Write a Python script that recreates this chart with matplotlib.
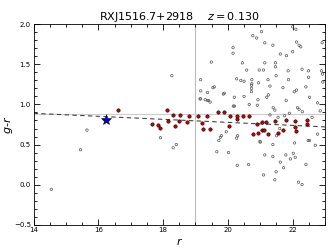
import numpy as np
import matplotlib
matplotlib.use("Agg")
import matplotlib.pyplot as plt
from matplotlib.ticker import MultipleLocator

# ------------------------------------------------------------
# Data
# ------------------------------------------------------------
# all galaxies in the field (open circles)
field_r = [14.55, 15.45, 15.65, 17.92, 18.31, 18.41, 18.27,
           19.16, 19.37, 19.16, 19.37, 19.45, 19.58, 19.89, 20.2, 20.5, 20.2,
           20.73, 20.73, 20.73, 20.66, 20.93, 20.91, 21.2, 21.25, 21.4, 21.45,
           21.3, 21.7, 21.8, 22.05, 22.12, 22.15, 22.2, 22.41, 22.52, 22.77,
           21.3, 21.55, 21.75, 22.77, 22.52, 20.27, 20.3, 19.77, 19.8, 21.0, 21.5,
           19.49, 19.16, 20.16, 20.16, 20.45, 20.77, 20.89, 21.04, 21.14, 21.39,
           21.62, 21.81, 22.0, 22.12, 22.2, 22.25, 22.91, 21.14, 21.47, 21.47,
           20.97, 21.1, 20.58, 21.86, 22.29, 22.49, 22.89, 22.92, 21.49, 21.24,
           21.87, 22.49, 22.93, 20.27, 20.4, 20.5, 20.74, 20.74, 20.95,
           19.72, 19.66, 20.02, 20.29, 20.64, 20.99, 21.14, 21.39, 21.39, 21.62,
           21.79, 21.93, 22.02, 22.08, 22.06, 21.72, 21.49, 21.1, 21.45, 22.18,
           22.29, 22.41, 22.7, 22.48, 22.0, 22.1, 19.14, 19.3, 19.4, 19.54,
           19.86, 20.17, 21.9, 22.3, 21.6, 22.6, 19.95, 22.85]
field_gr = [-0.06, 0.435, 0.68, 0.585, 0.46, 0.50, 1.36,
            1.17, 1.15, 1.07, 1.05, 1.03, 1.22, 1.14, 1.09, 1.10, 0.98,
            1.24, 1.20, 1.16, 1.00, 1.06, 0.99, 1.09, 1.12, 0.96, 0.93,
            1.23, 1.21, 1.05, 1.16, 1.18, 0.96, 0.94, 1.22, 1.09, 1.02,
            0.87, 0.84, 0.86, 0.63, 0.55, 0.58, 0.61, 0.59, 0.61, 0.53, 0.61,
            1.53, 1.31, 1.71, 1.64, 1.52, 1.86, 1.83, 1.91, 1.77, 1.74,
            1.63, 1.61, 1.66, 1.78, 1.74, 1.72, 1.77, 1.52, 1.52, 1.47,
            1.43, 1.43, 1.43, 1.42, 1.44, 1.42, 1.42, 1.38, 1.36, 1.31,
            1.31, 1.34, 1.28, 1.32, 1.30, 1.29, 1.31, 1.26, 1.27,
            0.55, 0.41, 0.40, 0.24, 0.25, 0.54, 0.37, 0.50, 0.35, 0.28,
            0.37, 0.32, 0.39, 0.34, 0.52, 0.21, 0.16, 0.12, 0.06, 0.03,
            0.00, 0.25, 0.49, 0.55, 1.97, 1.94, 1.07, 1.06, 1.05, 1.21,
            1.13, 0.98, 0.89, 0.91, 0.70, 0.84, 0.66, 0.92]

# red-sequence members (filled red)
member_r = [16.61, 18.12, 17.66, 17.84, 17.92, 18.16, 18.30, 18.52, 18.49,
            18.37, 18.73, 18.81, 19.09, 19.20, 19.22, 19.46, 19.37, 19.70,
            19.89, 20.06, 20.02, 20.29, 20.29, 20.48, 20.66, 20.89, 21.06,
            21.18, 21.04, 21.12, 20.78, 20.93, 21.24, 21.47, 21.54, 21.70,
            21.79, 22.06, 22.08, 22.10, 22.43, 22.45]
member_gr = [0.93, 0.935, 0.75, 0.745, 0.71, 0.79, 0.865, 0.87, 0.79,
             0.735, 0.785, 0.85, 0.85, 0.77, 0.69, 0.70, 0.85, 0.91,
             0.91, 0.86, 0.73, 0.86, 0.82, 0.86, 0.86, 0.76, 0.78,
             0.78, 0.68, 0.68, 0.63, 0.65, 0.63, 0.79, 0.64, 0.68,
             0.80, 0.79, 0.72, 0.67, 0.80, 0.75]

# brightest cluster galaxy
bcg_r, bcg_gr = 16.24, 0.80

# red-sequence fit and cuts
fit_r = [14.0, 23.0]
fit_gr = [0.89, 0.72]
r_cut = 19.0
gr_cut = 0.885

title = "RXJ1516.7+2918    $z = 0.130$"

# ------------------------------------------------------------
# Plot
# ------------------------------------------------------------
fig = plt.figure(figsize=(3.32, 2.49), dpi=100)
ax = fig.add_axes([0.101, 0.098, 0.878, 0.804])

ax.axvline(r_cut, color='#bbbbbb', lw=0.8, zorder=1)
ax.axhline(gr_cut, color='#cccccc', lw=0.8, zorder=1)
ax.plot(fit_r, fit_gr, '--', color='#444444', lw=0.8, dashes=(4, 3), zorder=2)

ax.scatter(field_r, field_gr, s=3, facecolors='none', edgecolors='#555555',
           linewidths=0.5, zorder=3)
ax.scatter(member_r, member_gr, s=6, color='#cc0000', edgecolors='black',
           linewidths=0.4, zorder=4)
ax.plot(bcg_r, bcg_gr, '*', color='#0000dd', markeredgecolor='black',
        markeredgewidth=0.4, markersize=8, zorder=5)

ax.set_xlim(14, 23)
ax.set_ylim(-0.5, 2.0)
ax.xaxis.set_major_locator(MultipleLocator(2))
ax.xaxis.set_minor_locator(MultipleLocator(0.5))
ax.yaxis.set_major_locator(MultipleLocator(0.5))
ax.yaxis.set_minor_locator(MultipleLocator(0.1))
ax.tick_params(which='both', direction='in', top=True, right=True,
               labelsize=5, width=0.6, pad=2)
ax.tick_params(which='major', length=4)
ax.tick_params(which='minor', length=2)
for sp in ax.spines.values():
    sp.set_linewidth(0.6)

ax.set_xlabel('$r$', fontsize=8, labelpad=2)
ax.set_ylabel('$g$-$r$', fontsize=8)
ax.yaxis.set_label_coords(-0.065, 0.5)
ax.set_title(title, fontsize=8, pad=2)

fig.savefig('out.png', dpi=100)
